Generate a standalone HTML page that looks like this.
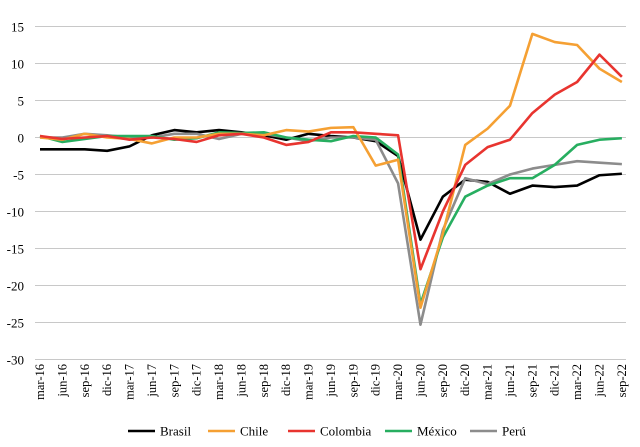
<!DOCTYPE html><html><head><meta charset="utf-8"><style>body{margin:0;background:#fff}svg{display:block;font-family:"Liberation Serif",serif}</style></head><body>
<svg width="640" height="447" id="s"></svg>
<script>
const s=document.getElementById('s');const NS='http://www.w3.org/2000/svg';
function el(t,a,txt){const e=document.createElementNS(NS,t);for(const k in a)e.setAttribute(k,a[k]);if(txt!=null)e.textContent=txt;s.appendChild(e);return e;}
const Y=v=>137.5-v*7.4, X=i=>40+22.38*i;
for(let v=15;v>=-30;v-=5){el('line',{x1:35,x2:626,y1:Y(v),y2:Y(v),stroke:'#c8c8c8','stroke-width':1});
el('text',{x:24,y:Y(v)+5,'text-anchor':'end','font-size':13},String(v));}
const lab=['mar','jun','sep','dic'];
for(let i=0;i<27;i++){const l=lab[i%4]+'-'+(16+Math.floor(i/4));const x=X(i)+4;
el('text',{x:x,y:364,'text-anchor':'end','font-size':12.5,transform:`rotate(-90 ${x} 364)`},l);}
const D={
'#000000':[-1.6,-1.6,-1.6,-1.8,-1.2,0.3,1,0.7,1,0.7,0.3,-0.3,0.5,0.2,0,-0.5,-2.5,-13.8,-8,-5.7,-6,-7.6,-6.5,-6.7,-6.5,-5.1,-4.9],
'#8c8c8c':[0,0,0.5,0.3,0,0,0.5,0.5,-0.2,0.5,0.5,0,-0.5,0,0,-0.3,-6.2,-25.3,-12.5,-5.5,-6.3,-5,-4.2,-3.7,-3.2,-3.4,-3.6],
'#27ae60':[0.2,-0.6,-0.2,0.2,0.2,0.2,-0.3,-0.1,0.7,0.6,0.7,0,-0.3,-0.5,0.2,0,-2.3,-22.5,-13.5,-8,-6.5,-5.5,-5.5,-3.7,-1,-0.3,-0.1],
'#f5a033':[0,-0.3,0.5,0,-0.2,-0.8,0,0,0.5,0.5,0.3,1,0.8,1.3,1.4,-3.8,-3,-23,-13,-1,1.2,4.3,14,12.9,12.5,9.3,7.5],
'#e8342f':[0.2,-0.2,0,0.2,-0.3,0,-0.2,-0.6,0.3,0.5,0,-1,-0.6,0.7,0.7,0.5,0.3,-17.8,-10,-3.7,-1.3,-0.3,3.3,5.8,7.5,11.2,8.2]};
for(const c in D)el('polyline',{points:D[c].map((v,i)=>X(i)+','+Y(v)).join(' '),fill:'none',stroke:c,'stroke-width':2.6,'stroke-linejoin':'round'});
const L=[['Brasil','#000000',128],['Chile','#f5a033',208],['Colombia','#e8342f',288],['México','#27ae60',385],['Perú','#8c8c8c',470]];
for(const [t,c,x] of L){el('line',{x1:x,x2:x+27,y1:431,y2:431,stroke:c,'stroke-width':2.6});el('text',{x:x+32,y:435.5,'font-size':13},t);}
</script></body></html>
